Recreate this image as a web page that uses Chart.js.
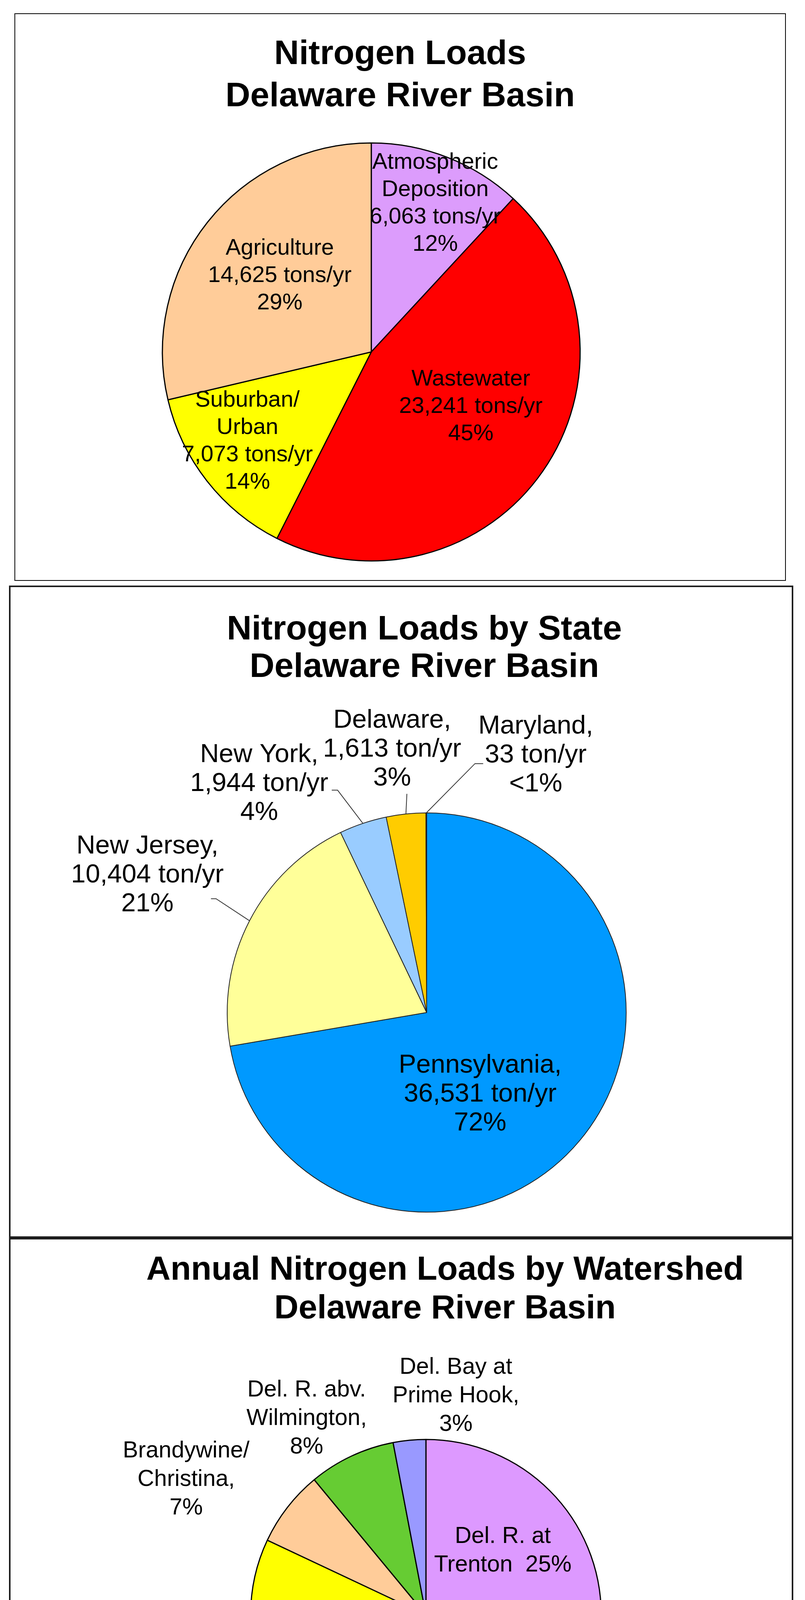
<!DOCTYPE html>
<html>
<head>
<meta charset="utf-8">
<script src="https://cdn.jsdelivr.net/npm/chart.js@4/dist/chart.umd.min.js"></script>
<style>
html, body { margin: 0; padding: 0; background: #ffffff; }
body { width: 2062px; height: 4741px; position: relative; overflow: hidden; }
.panel { position: absolute; box-sizing: border-box; }
canvas { position: absolute; }
</style>
</head>
<body>
<div class="panel" style="left:37px;top:34px;width:1976px;height:1453px;border:2px solid #000;"></div>
<div class="panel" style="left:23px;top:1499px;width:2009px;height:1670px;border:4px solid #1e1e1e;"></div>
<div class="panel" style="left:23px;top:3169px;width:2009px;height:1530px;border:4px solid #1e1e1e;"></div>
<canvas id="c1" width="1972" height="1449" style="left:39px;top:36px;width:1972px;height:1449px;"></canvas>
<canvas id="c2" width="1882" height="1662" style="left:146px;top:1503px;width:1882px;height:1662px;"></canvas>
<canvas id="c3" width="1776" height="1520" style="left:252px;top:3173px;width:1776px;height:1520px;"></canvas>
<script>
// ---------- DATA ----------
// Chart 1: Nitrogen loads by source (tons/yr)
const sourceNames = [['Atmospheric', 'Deposition'], ['Wastewater'], ['Suburban/', 'Urban'], ['Agriculture']];
const sourceLoads = [6063, 23241, 7073, 14625];
const sourcePercents = ['12%', '45%', '14%', '29%'];
const sourceColors = ['#DC9CFC', '#FF0000', '#FFFF00', '#FFCC99'];

// Chart 2: Nitrogen loads by state (ton/yr)
const stateNames = ['Pennsylvania,', 'New Jersey,', 'New York,', 'Delaware,', 'Maryland,'];
const stateLoads = [36531, 10404, 1944, 1613, 33];
const statePercents = ['72%', '21%', '4%', '3%', '<1%'];
const stateColors = ['#0099FF', '#FFFF99', '#99CCFF', '#FFCC00', '#FF9900'];

// Chart 3: Annual nitrogen loads by watershed (% share)
const watershedNames = ['Del. R. at Trenton', 'Del. R. abv. Phila.', 'Schuylkill R.', 'Brandywine/ Christina', 'Del. R. abv. Wilmington', 'Del. Bay at Prime Hook'];
const watershedShares = [25, 29, 28, 7, 8, 3];
const watershedLabelLines = [
  ['Del. R. at', 'Trenton  25%'],
  ['Del. R. abv.', 'Phila.', '29%'],
  ['Schuylkill  R.,', '28%'],
  ['Brandywine/', 'Christina,', '7%'],
  ['Del. R. abv.', 'Wilmington,', '8%'],
  ['Del. Bay at', 'Prime Hook,', '3%']
];
const watershedColors = ['#DD99FF', '#FF0000', '#FFFF00', '#FFCC99', '#66CC33', '#9999FF'];

// ---------- HELPERS ----------
const FONT = "'Liberation Sans', Arial, Helvetica, sans-serif";
const fmt = v => v.toLocaleString('en-US');
const sourceLines = sourceNames.map((n, i) => [...n, fmt(sourceLoads[i]) + ' tons/yr', sourcePercents[i]]);
const stateLines = stateNames.map((n, i) => [n, fmt(stateLoads[i]) + ' ton/yr', statePercents[i]]);

// Place the pie at a given centre / radius inside its canvas
const pieFrame = {
  id: 'pieFrame',
  afterLayout(chart, args, o) {
    chart.chartArea = { left: o.x - o.r, right: o.x + o.r, top: o.y - o.r, bottom: o.y + o.r, width: 2 * o.r, height: 2 * o.r };
  }
};

// Slice labels (and optional leader lines), anchored to each arc's mid-angle
const sliceLabels = {
  id: 'sliceLabels',
  afterDatasetsDraw(chart, args, o) {
    const ctx = chart.ctx;
    const arcs = chart.getDatasetMeta(0).data;
    ctx.save();
    arcs.forEach((arc, i) => {
      const p = arc.getProps(['x', 'y', 'startAngle', 'endAngle', 'outerRadius'], true);
      const mid = (p.startAngle + p.endAngle) / 2;
      const pl = o.place[i];
      const a = mid + pl[1] * Math.PI / 180;
      const lx = p.x + Math.cos(a) * p.outerRadius * pl[0];
      const ly = p.y + Math.sin(a) * p.outerRadius * pl[0];
      const lead = o.leaders ? o.leaders[i] : null;
      if (lead) {
        const ka = mid + lead[1] * Math.PI / 180;
        const kx = p.x + Math.cos(ka) * p.outerRadius * lead[0];
        const ky = p.y + Math.sin(ka) * p.outerRadius * lead[0];
        ctx.beginPath();
        ctx.moveTo(p.x + Math.cos(mid) * p.outerRadius, p.y + Math.sin(mid) * p.outerRadius);
        ctx.lineTo(kx, ky);
        ctx.lineTo(kx + lead[2], ky);
        ctx.strokeStyle = o.leaderColor;
        ctx.lineWidth = o.leaderWidth;
        ctx.stroke();
      }
      ctx.font = o.size + 'px ' + FONT;
      ctx.fillStyle = o.color;
      ctx.textAlign = 'center';
      ctx.textBaseline = 'middle';
      const lines = o.lines[i];
      lines.forEach((t, k) => ctx.fillText(t, lx, ly + (k - (lines.length - 1) / 2) * o.lineHeight));
    });
    ctx.restore();
  }
};

function makePie(id, labels, values, colors, cfg) {
  return new Chart(document.getElementById(id), {
    type: 'pie',
    data: { labels: labels, datasets: [{ data: values, backgroundColor: colors, borderColor: cfg.border, borderWidth: cfg.borderWidth, hoverOffset: 0 }] },
    options: {
      responsive: false, animation: false, devicePixelRatio: 1, events: [],
      radius: cfg.frame.r, layout: { padding: 0 },
      plugins: {
        legend: { display: false }, tooltip: { enabled: false },
        title: { display: true, text: cfg.title, color: '#000000',
          font: { family: FONT, size: cfg.titleSize, weight: 'bold', lineHeight: cfg.titleLH },
          padding: { top: cfg.titleTop, bottom: 0 } },
        pieFrame: cfg.frame, sliceLabels: cfg.labels
      }
    },
    plugins: [pieFrame, sliceLabels]
  });
}

makePie('c1', sourceNames.map(n => n.join(' ')), sourceLoads, sourceColors, {
  title: ['Nitrogen Loads', 'Delaware River Basin'], titleSize: 88, titleLH: 1.227, titleTop: 50,
  border: '#000000', borderWidth: 3, frame: { x: 912, y: 865, r: 535 },
  labels: { lines: sourceLines, size: 58, lineHeight: 70, color: '#000000',
    place: [[0.774, 1.9], [0.544, -6], [0.731, 2.4], [0.57, 1.4]] }
});
makePie('c2', stateNames, stateLoads, stateColors, {
  title: ['Nitrogen Loads by State', 'Delaware River Basin'], titleSize: 88, titleLH: 1.10, titleTop: 61,
  border: '#222222', borderWidth: 2, frame: { x: 947, y: 1089, r: 511 },
  labels: { lines: stateLines, size: 67, lineHeight: 74, color: '#000000',
    place: [[0.49, 16.7], [1.56, -1.2], [1.42, -17.6], [1.33, -1.5], [1.40, 23.1]],
    leaders: [null, [1.20, 1, -13], [1.20, -3.2, -15], [1.10, 0.8, 0], [1.27, 11.1, 21]],
    leaderColor: '#333333', leaderWidth: 2 }
});
makePie('c3', watershedNames, watershedShares, watershedColors, {
  title: ['Annual Nitrogen Loads by Watershed', 'Delaware River Basin'], titleSize: 86, titleLH: 1.151, titleTop: 30,
  border: '#000000', borderWidth: 3, frame: { x: 839, y: 961, r: 449 },
  labels: { lines: watershedLabelLines, size: 59, lineHeight: 73, color: '#000000',
    place: [[0.57, 5.3], [0.73, -1.5], [0.58, 3.6], [1.57, -8.4], [1.31, -6.1], [1.26, 13.2]] }
});
</script>
</body>
</html>
